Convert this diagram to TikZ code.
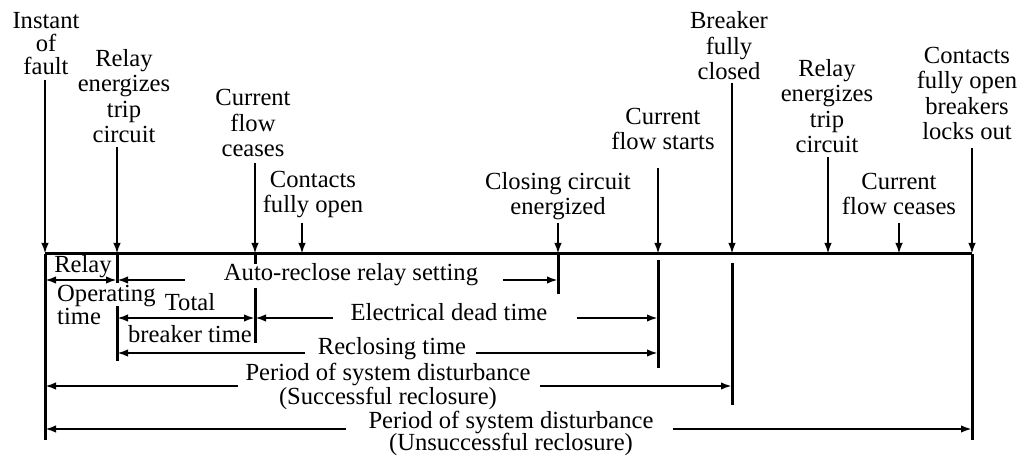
\documentclass[tikz,border=0pt]{standalone}
\usepackage{fontspec}
\setmainfont{Liberation Serif}
\usetikzlibrary{arrows.meta}
\begin{document}
\begin{tikzpicture}[x=1pt,y=-1pt,
  lbl/.style={font=\fontsize{24.6}{25.5}\selectfont, align=center, inner sep=0pt},
  top/.style={lbl, anchor=south},
  ln/.style={line width=3pt},
  arr/.style={line width=2.6pt, -{Latex[length=11pt,width=7.5pt]}},
  darr/.style={line width=2.6pt, {Latex[length=11pt,width=7.5pt]}-{Latex[length=11pt,width=7.5pt]}},
]
\useasboundingbox (0,0) rectangle (1021,457);
% event points on the time line
\coordinate (t1) at (45,254);
\coordinate (t2) at (117,254);
\coordinate (t3) at (255,254);
\coordinate (t4) at (302,254);
\coordinate (t5) at (558,254);
\coordinate (t6) at (658,254);
\coordinate (t7) at (732,254);
\coordinate (t8) at (828,254);
\coordinate (t9) at (899,254);
\coordinate (t10) at (972,254);
% rows of the dimension arrows
\coordinate (rA) at (0,280);
\coordinate (rB) at (0,318);
\coordinate (rC) at (0,353);
\coordinate (rD) at (0,386);
\coordinate (rE) at (0,429);

\draw[ln] (t1) -- (t10);

% top labels and arrows
\node[top, outer ysep=5pt] (l1) at (46,80) {Instant\\[-2.5pt]of\\[-2.5pt]fault};
\node[top, outer ysep=4pt] (l2) at (124,147) {Relay\\energizes\\trip\\circuit};
\node[top, outer ysep=6pt] (l3) at (253,163) {Current\\flow\\ceases};
\node[top, outer ysep=5pt] (l4) at (313,223) {Contacts\\fully open};
\node[top, outer ysep=3pt] (l5) at (558,223) {Closing circuit\\energized};
\node[top, outer ysep=18pt] (l6) at (663,168) {Current\\flow starts};
\node[top, outer ysep=3pt] (l7) at (729,83) {Breaker\\fully\\closed};
\node[top, outer ysep=4pt] (l8) at (827,157) {Relay\\energizes\\trip\\circuit};
\node[top, outer ysep=8pt] (l9) at (899,223) {Current\\flow ceases};
\node[top, outer ysep=8pt] (l10) at (967,148) {Contacts\\fully open\\breakers\\locks out};

\foreach \i in {1,...,10}{
  \draw[arr] (l\i.south -| t\i) -- (t\i);
}

% vertical lines below the time line
\draw[ln] (t1) -- (t1 |- 0,440);
\draw[ln] (t10) -- (t10 |- 0,440);
\draw[ln] (t2) -- (t2 |- 0,283);
\draw[ln] (t2 |- 0,306) -- (t2 |- 0,361);
\draw[ln] (t3) -- (t3 |- 0,264);
\draw[ln] (t3 |- 0,288) -- (t3 |- 0,343);
\draw[ln] (t5) -- (t5 |- 0,294);
\draw[ln] (t6 |- 0,260) -- (t6 |- 0,368);
\draw[ln] (t7 |- 0,263) -- (t7 |- 0,405);

% dimension arrows
\coordinate (a1) at (185,280);
\coordinate (a2) at (503,280);
\coordinate (b1) at (333,318);
\coordinate (b2) at (577,318);
\coordinate (c1) at (305,353);
\coordinate (c2) at (476,353);
\coordinate (d1) at (238,386);
\coordinate (d2) at (540,386);
\coordinate (e1) at (346,429);
\coordinate (e2) at (673,429);

\draw[darr] (t1 |- rA) -- (t2 |- rA);
\draw[arr] (a1) -- (t2 |- rA);
\draw[arr] (a2) -- (t5 |- rA);
\draw[darr] (t2 |- rB) -- (t3 |- rB);
\draw[arr] (b1) -- (t3 |- rB);
\draw[arr] (b2) -- (t6 |- rB);
\draw[arr] (c1) -- (t2 |- rC);
\draw[arr] (c2) -- (t6 |- rC);
\draw[arr] (d1) -- (t1 |- rD);
\draw[arr] (d2) -- (t7 |- rD);
\draw[arr] (e1) -- (t1 |- rE);
\draw[arr] (e2) -- (t10 |- rE);

% dimension labels
\node[lbl, anchor=base] (relay) at (83,273) {Relay};
\node[lbl, anchor=base] (auto) at (351,281) {Auto-reclose relay setting};
\node[lbl, anchor=south west, align=left] (optime) at (57,325) {Operating\\[-2.5pt]time};
\node[lbl, anchor=base] (total) at (190,311) {Total};
\node[lbl, anchor=base] (bktime) at (190,342) {breaker time};
\node[lbl, anchor=base] (edt) at (449,320) {Electrical dead time};
\node[lbl, anchor=base] (rct) at (392,355) {Reclosing time};
\node[lbl, anchor=south] (psd1) at (388,410) {Period of system disturbance\\[-1.5pt](Successful reclosure)};
\node[lbl, anchor=south] (psd2) at (511,456) {Period of system disturbance\\[-3pt](Unsuccessful reclosure)};
\end{tikzpicture}
\end{document}
